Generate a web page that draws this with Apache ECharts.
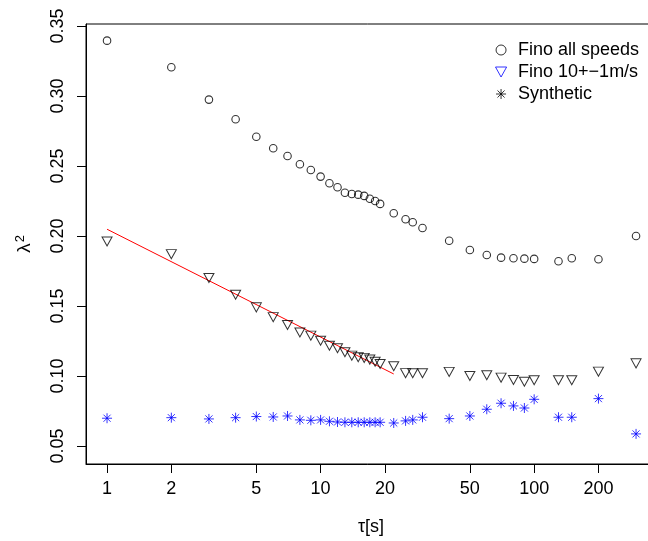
<!DOCTYPE html>
<html>
<head>
<meta charset="utf-8">
<script src="https://cdn.jsdelivr.net/npm/echarts@6/dist/echarts.min.js"></script>
<style>
html,body{margin:0;padding:0;background:#fff;}
#chart{width:648px;height:541px;}
</style>
</head>
<body>
<div id="chart"></div>
<script>
// ---- data ----
var tau = [1,2,3,4,5,6,7,8,9,10,11,12,13,14,15,16,17,18,19,22,25,27,30,40,50,60,70,80,90,100,130,150,200,300];
var finoAll = [0.3395,0.3205,0.2974,0.2834,0.2709,0.2626,0.2571,0.2512,0.2471,0.2424,0.2376,0.2348,0.2309,0.2300,0.2295,0.2286,0.2266,0.2250,0.2229,0.2162,0.2119,0.2098,0.2057,0.1966,0.1900,0.1864,0.1845,0.1841,0.1838,0.1836,0.1819,0.1841,0.1834,0.2000];
var fino10 = [0.1960,0.1870,0.1700,0.1580,0.1490,0.1420,0.1364,0.1310,0.1288,0.1252,0.1216,0.1198,0.1169,0.1145,0.1134,0.1129,0.1117,0.1102,0.1085,0.1069,0.1020,0.1019,0.1019,0.1029,0.1000,0.1005,0.0988,0.0971,0.0959,0.0969,0.0969,0.0969,0.1031,0.1090];
var synthetic = [0.0698,0.0702,0.0693,0.0702,0.0710,0.0707,0.0714,0.0686,0.0683,0.0686,0.0676,0.0671,0.0669,0.0669,0.0669,0.0669,0.0669,0.0669,0.0669,0.0664,0.0679,0.0686,0.0705,0.0695,0.0714,0.0762,0.0805,0.0786,0.0771,0.0833,0.0705,0.0705,0.0838,0.0586];
var fitX = [1, 22];
var fitY = [0.2048, 0.1014];
var xTicks = [1,2,5,10,20,50,100,200];
var yTicks = [0.05,0.10,0.15,0.20,0.25,0.30,0.35];
var seriesNames = ['Fino all speeds','Fino 10+\u22121m/s','Synthetic'];

function pairs(xs, ys){ return xs.map(function(x,i){ return [x, ys[i]]; }); }

var FONT = '"Liberation Sans", Arial, Helvetica, sans-serif';
var TRI = 'path://M0,0 L10,0 L5,9 Z';
var AST = 'path://M5,0 L5,10 M0,5 L10,5 M1.46,1.46 L8.54,8.54 M1.46,8.54 L8.54,1.46';

var chart = echarts.init(document.getElementById('chart'), null, {renderer:'canvas'});
chart.setOption({
  animation: false,
  backgroundColor: '#fff',
  textStyle: {fontFamily: FONT},
  grid: {left: 86, top: 24, right: -8, bottom: 77, show: true, borderColor: '#000', borderWidth: 1, containLabel: false, outerBoundsMode: 'none'},
  legend: {
    orient: 'vertical', left: 490, top: 36, itemGap: 4, itemWidth: 24, itemHeight: 10,
    textStyle: {fontSize: 18, color: '#000', fontFamily: FONT},
    data: [
      {name: seriesNames[0], icon: 'circle', itemStyle: {color: 'rgba(0,0,0,0)', borderColor: '#000', borderWidth: 1}},
      {name: seriesNames[1], icon: TRI, itemStyle: {color: 'rgba(0,0,0,0)', borderColor: '#0000ff', borderWidth: 1}},
      {name: seriesNames[2], icon: AST, itemStyle: {color: 'rgba(0,0,0,0)', borderColor: '#000', borderWidth: 1}}
    ]
  },
  xAxis: {
    type: 'log', logBase: 10, min: 0.797, max: 372,
    name: '\u03c4[s]', nameLocation: 'middle', nameGap: 54,
    nameTextStyle: {fontSize: 18, color: '#000', fontFamily: FONT},
    axisLine: {show: true, lineStyle: {color: '#000', width: 1}},
    axisTick: {show: true, length: 9, lineStyle: {color: '#000'}, customValues: xTicks},
    axisLabel: {show: true, fontSize: 18, color: '#000', margin: 16, customValues: xTicks, formatter: function(v){ return String(v); }},
    splitLine: {show: false}, minorTick: {show: false}
  },
  yAxis: {
    type: 'value', min: 0.0371, max: 0.3514,
    name: '{b|\u03bb}{s|2}', nameLocation: 'middle', nameGap: 50, nameRotate: 90,
    nameTextStyle: {fontSize: 18, color: '#000', fontFamily: FONT,
      rich: {b: {fontSize: 19, color: '#000', fontFamily: FONT}, s: {fontSize: 13, color: '#000', fontFamily: FONT, padding: [0,0,9,1]}}},
    axisLine: {show: true, lineStyle: {color: '#000', width: 1}},
    axisTick: {show: true, length: 9, lineStyle: {color: '#000'}, customValues: yTicks},
    axisLabel: {show: true, fontSize: 18, color: '#000', margin: 19, rotate: 90, customValues: yTicks, formatter: function(v){ return v.toFixed(2); }},
    splitLine: {show: false}
  },
  series: [
    {name: seriesNames[0], type: 'scatter', symbol: 'circle', symbolSize: 7.5, data: pairs(tau, finoAll),
     itemStyle: {color: 'rgba(0,0,0,0)', borderColor: '#000', borderWidth: 1.1}},
    {name: seriesNames[1], type: 'scatter', symbol: TRI, symbolSize: [10,9], data: pairs(tau, fino10),
     itemStyle: {color: 'rgba(0,0,0,0)', borderColor: '#000', borderWidth: 1}},
    {name: seriesNames[2], type: 'scatter', symbol: AST, symbolSize: 10, data: pairs(tau, synthetic),
     itemStyle: {color: 'rgba(0,0,0,0)', borderColor: '#0000ff', borderWidth: 1}},
    {name: 'fit', type: 'line', data: pairs(fitX, fitY), symbol: 'none', silent: true,
     lineStyle: {color: '#ff0000', width: 1}, z: 1}
  ]
});
</script>
</body>
</html>
